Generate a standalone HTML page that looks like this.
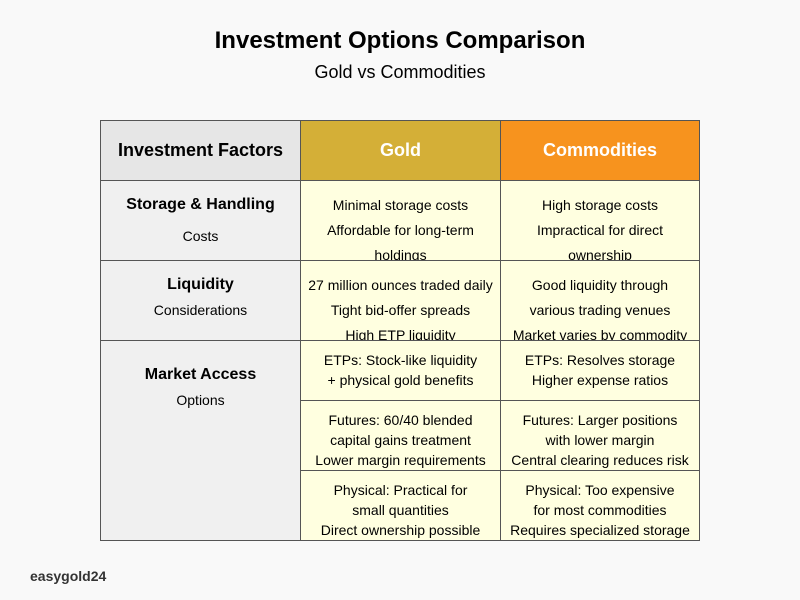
<!DOCTYPE html>
<html><head><meta charset="utf-8"><style>
body{margin:0;width:800px;height:600px;background:#f9f9f9;font-family:"Liberation Sans",sans-serif;position:relative;overflow:hidden;color:#000}
.t{position:absolute;left:0;width:800px;text-align:center}
.c{position:absolute;box-sizing:border-box;border:1px solid #555;overflow:hidden;text-align:center;font-size:14px}
.y{background:#ffffe0}
.l{background:#f0f0f0}
</style></head><body>
<div class="t" style="top:27px;font-size:24px;font-weight:bold">Investment Options Comparison</div>
<div class="t" style="top:62px;font-size:18px">Gold vs Commodities</div>

<div class="c" style="left:100px;top:120px;width:201px;height:61px;background:#e6e6e6;font-size:18px;font-weight:bold;line-height:59px">Investment Factors</div>
<div class="c" style="left:300px;top:120px;width:201px;height:61px;background:#d4af37;color:#fff;font-size:18px;font-weight:bold;line-height:59px">Gold</div>
<div class="c" style="left:500px;top:120px;width:200px;height:61px;background:#f7931e;color:#fff;font-size:18px;font-weight:bold;line-height:59px">Commodities</div>

<div class="c l" style="left:100px;top:180px;width:201px;height:81px;padding-top:12px"><div style="font-weight:bold;font-size:16px;line-height:24px">Storage &amp; Handling</div><div style="line-height:38px">Costs</div></div>
<div class="c y" style="left:300px;top:180px;width:201px;height:81px;padding-top:12px;line-height:25px">Minimal storage costs<br>Affordable for long-term<br>holdings</div>
<div class="c y" style="left:500px;top:180px;width:200px;height:81px;padding-top:12px;line-height:25px">High storage costs<br>Impractical for direct<br>ownership</div>

<div class="c l" style="left:100px;top:260px;width:201px;height:81px;padding-top:12px"><div style="font-weight:bold;font-size:16px;line-height:24px">Liquidity</div><div style="line-height:26px">Considerations</div></div>
<div class="c y" style="left:300px;top:260px;width:201px;height:81px;padding-top:12px;line-height:25px">27 million ounces traded daily<br>Tight bid-offer spreads<br>High ETP liquidity</div>
<div class="c y" style="left:500px;top:260px;width:200px;height:81px;padding-top:12px;line-height:25px">Good liquidity through<br>various trading venues<br>Market varies by commodity</div>

<div class="c l" style="left:100px;top:340px;width:201px;height:201px;padding-top:22px"><div style="font-weight:bold;font-size:16px;line-height:24px">Market Access</div><div style="line-height:26px">Options</div></div>
<div class="c y" style="left:300px;top:340px;width:201px;height:61px;padding-top:9px;line-height:20px">ETPs: Stock-like liquidity<br>+ physical gold benefits</div>
<div class="c y" style="left:500px;top:340px;width:200px;height:61px;padding-top:9px;line-height:20px">ETPs: Resolves storage<br>Higher expense ratios</div>
<div class="c y" style="left:300px;top:400px;width:201px;height:71px;padding-top:9px;line-height:20px">Futures: 60/40 blended<br>capital gains treatment<br>Lower margin requirements</div>
<div class="c y" style="left:500px;top:400px;width:200px;height:71px;padding-top:9px;line-height:20px">Futures: Larger positions<br>with lower margin<br>Central clearing reduces risk</div>
<div class="c y" style="left:300px;top:470px;width:201px;height:71px;padding-top:9px;line-height:20px">Physical: Practical for<br>small quantities<br>Direct ownership possible</div>
<div class="c y" style="left:500px;top:470px;width:200px;height:71px;padding-top:9px;line-height:20px">Physical: Too expensive<br>for most commodities<br>Requires specialized storage</div>

<div style="position:absolute;left:30px;top:568px;font-size:14px;font-weight:bold;color:#333">easygold24</div>
</body></html>
